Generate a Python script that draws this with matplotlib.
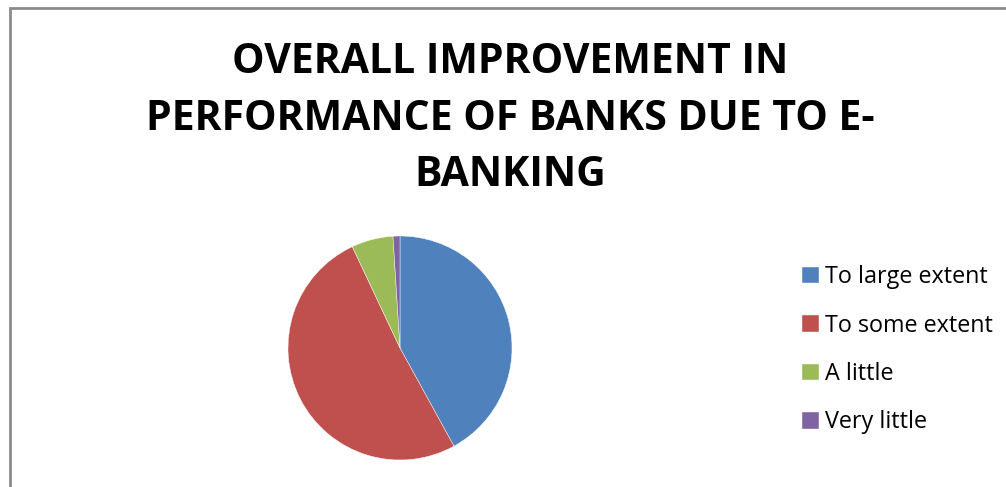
import matplotlib
matplotlib.use('Agg')
import matplotlib.pyplot as plt
from matplotlib.patches import Rectangle

# data
labels = ['To large extent', 'To some extent', 'A little', 'Very little']
values = [42, 51, 6, 1]
colors = ['#4F81BD', '#C0504D', '#9BBB59', '#8064A2']
title = 'OVERALL IMPROVEMENT IN\nPERFORMANCE OF BANKS DUE TO E-\nBANKING'

plt.rcParams['font.family'] = ['Open Sans', 'DejaVu Sans']

fig = plt.figure(figsize=(10.06, 4.87), dpi=100)
W, H = 1006, 487

# outer grey frame (cut off at right / bottom like the screenshot)
fig.patches.append(Rectangle((9.5 / W, -0.05), 1.1, 1 - 7.5 / H + 0.05,
                             transform=fig.transFigure, fill=False,
                             edgecolor='#8c8c8c', linewidth=2))

# title
fig.text(510 / W, 1 - 119 / H, title, ha='center', va='center',
         fontsize=29.5, fontweight='bold', linespacing=1.5)

# pie
ax = fig.add_axes([(400 - 112) / W, (487 - 460) / H, 224 / W, 224 / H])
wedges, _ = ax.pie(values, colors=colors, startangle=90, counterclock=False,
                   wedgeprops=dict(edgecolor='white', linewidth=0.3))
ax.set_xlim(-1, 1)
ax.set_ylim(-1, 1)
ax.set_aspect('equal')

# legend
fig.legend(wedges, labels, loc='upper left',
           bbox_to_anchor=(781 / W, 1 - 244 / H), frameon=False,
           fontsize=16.8, handlelength=0.72, handleheight=0.72,
           handletextpad=0.28, labelspacing=1.05)

fig.savefig('out.png', dpi=100)
